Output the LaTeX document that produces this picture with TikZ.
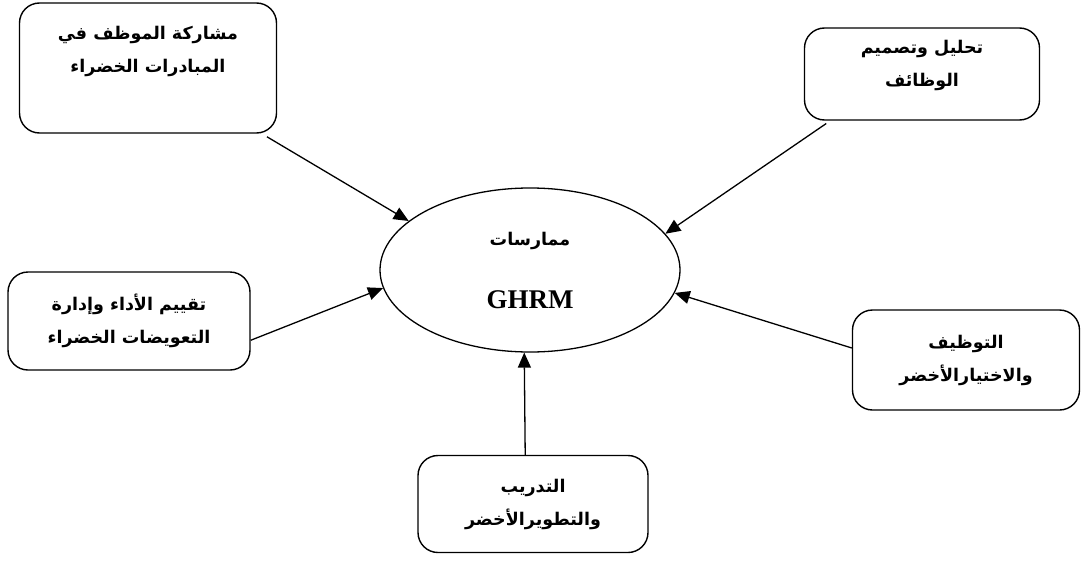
\documentclass[tikz,border=0pt]{standalone}
\usepackage{fontspec}
\setmainfont{Liberation Serif}
\newfontfamily\arabicfont[Script=Arabic]{DejaVu Sans}
\TeXXeTstate=1
\usetikzlibrary{shapes.geometric,arrows.meta}

\begin{document}
\begin{tikzpicture}[x=1pt,y=-1pt,every node/.style={align=center,inner sep=0pt,font=\arabicfont\bfseries\fontsize{17.5}{33}\selectfont},box/.style={draw,line width=1.4pt,rounded corners=20pt},link/.style={line width=1.3pt,-{Triangle[length=15pt,width=13pt]}}]
\useasboundingbox (0,0) rectangle (1089,562);
\node[draw,ellipse,line width=1.3pt,minimum width=300pt,minimum height=164pt](hub) at (530,270) {\beginR ممارسات\endR\\[30pt]{\rmfamily\fontsize{27}{30}\selectfont GHRM}};
\node[box,minimum width=257pt,minimum height=130pt,text depth=38pt](share) at (148,68) {\beginR مشاركة الموظف في\endR\\\beginR المبادرات الخضراء\endR};
\node[box,minimum width=235pt,minimum height=92pt,text depth=22pt](design) at (922,74) {\beginR تحليل وتصميم\endR\\\beginR الوظائف\endR};
\node[box,minimum width=242pt,minimum height=98pt](appraise) at (129,321) {\beginR تقييم الأداء وإدارة\endR\\\beginR التعويضات الخضراء\endR};
\node[box,minimum width=227pt,minimum height=100pt](hire) at (966,360) {\beginR التوظيف\endR\\\beginR والاختيارالأخضر\endR};
\node[box,minimum width=230pt,minimum height=97pt](train) at (533,504) {\beginR التدريب\endR\\\beginR والتطويرالأخضر\endR};
\draw[link,shorten <=6pt] (share.-30) -- (hub.158);
\draw[link,shorten <=5pt] (design.207) -- (hub.15.5);
\draw[link] (appraise.-9) -- (hub.187.6);
\draw[link] (hire.174) -- (hub.-9.6);
\draw[link] (train.99.5) -- (hub.266.5);
\end{tikzpicture}
\end{document}
